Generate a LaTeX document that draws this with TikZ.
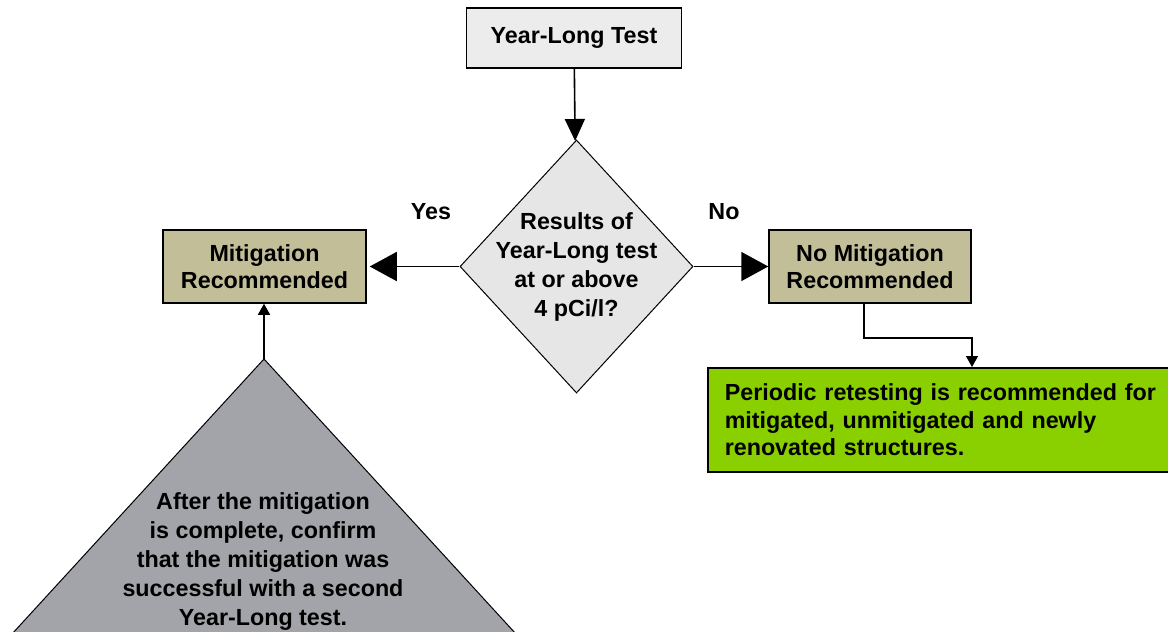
\documentclass[tikz,border=0pt]{standalone}
\usepackage{fontspec}
\setmainfont{Liberation Sans}
\usetikzlibrary{shapes.geometric,arrows.meta}
\definecolor{topgray}{HTML}{ECECEC}
\definecolor{diagray}{HTML}{E6E6E6}
\definecolor{tan}{HTML}{C2BE98}
\definecolor{limegreen}{HTML}{8AD000}
\definecolor{trigray}{HTML}{A2A4A9}
\begin{document}
\begin{tikzpicture}[x=1pt,y=-1pt,
  every node/.style={font=\bfseries\fontsize{23.3}{26.6}\selectfont, inner sep=0pt},
  rectbox/.style={draw=black, line width=1.5pt, rectangle},
  bigarrow/.style={line width=1.6pt, -{Triangle[length=27pt,width=29pt]}},
  downarrow/.style={line width=1.6pt, -{Triangle[length=22pt,width=20pt]}},
  smallarrow/.style={line width=1.4pt, -{Triangle[length=11pt,width=12pt]}}]
\useasboundingbox (0,0) rectangle (1168,632);
\clip (0,0) rectangle (1168,632);

% triangle
\coordinate (apex) at (264,359);
\draw[fill=trigray, line width=1pt] (apex) -- (-54,706) -- (582,706) -- cycle;
\node[align=center, font=\bfseries\fontsize{23.3}{29}\selectfont] (tri) at (263,562)
  {After the mitigation\\is complete, confirm\\that the mitigation was\\successful with a second\\Year-Long test.};

% nodes
\node[rectbox, fill=topgray, minimum width=215pt, minimum height=60pt] (top) at (574,38) {Year-Long Test};
\node[diamond, draw=black, line width=1pt, fill=diagray, minimum width=233pt, minimum height=253pt,
  label={[align=center, font=\bfseries\fontsize{23.3}{29}\selectfont]center:Results of\\Year-Long test\\at or above\\4 pCi/l?}] (dec) at (576.5,266.5) {};
\node[rectbox, fill=tan, minimum width=203pt, minimum height=73pt, align=center] (mit) at (264.5,266.5) {Mitigation\\Recommended};
\node[rectbox, fill=tan, minimum width=202pt, minimum height=73pt, align=center] (nomit) at (870,266.5) {No Mitigation\\Recommended};
\node[rectbox, fill=limegreen, anchor=north west, minimum height=104pt, text width=450pt, inner xsep=17pt, align=left,
  font=\bfseries\fontsize{23.3}{27.5}\selectfont] (green) at (707,367)
  {Periodic retesting is recommended for\\mitigated, unmitigated and newly\\renovated structures.};

\node (yes) at (431,212) {Yes};
\node (no) at (724,212) {No};

% connectors
\draw[downarrow] (top) -- (dec);
\draw[bigarrow, shorten >=3pt] (dec) -- (mit);
\draw[bigarrow] (dec) -- (nomit);
\coordinate (bend) at (864,338);
\coordinate (drop) at (972,338);
\draw[smallarrow] (bend |- nomit.south) -- (bend) -- (drop) -- (drop |- green.north);
\draw[smallarrow] (apex) -- (apex |- mit.south);
\end{tikzpicture}
\end{document}
